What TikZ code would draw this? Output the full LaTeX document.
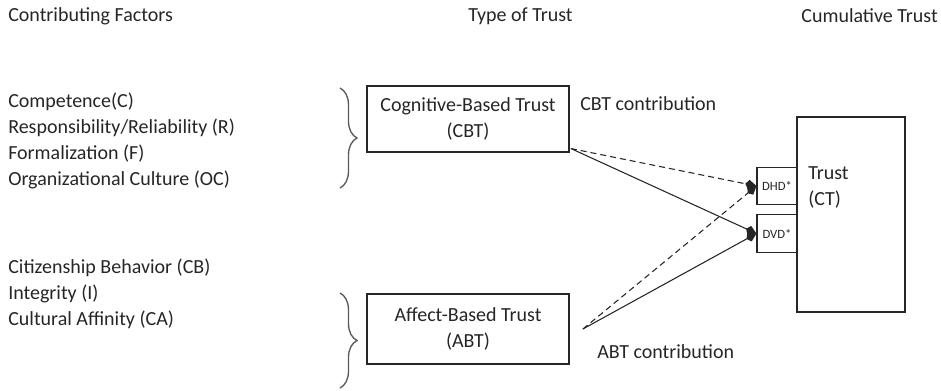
\documentclass[tikz,border=0pt]{standalone}
\usepackage{fontspec}
\setmainfont{Carlito}
\usetikzlibrary{arrows.meta,decorations.pathreplacing}

\begin{document}
\begin{tikzpicture}[x=0.75pt,y=-0.75pt,
  every node/.style={font=\fontsize{15}{19.5}\selectfont, text=black!85, inner sep=0pt},
  typebox/.style={draw=black!85, line width=0.8pt, minimum width=151.5pt, align=center},
  dbox/.style={draw=black!85, line width=0.8pt, minimum width=30pt, minimum height=28pt, font=\fontsize{9.5}{11}\selectfont},
  fbrace/.style={decorate, decoration={brace, amplitude=12.75pt}, draw=black!65, line width=1pt},
  link/.style={draw=black!85, line width=0.8pt, -{Kite[length=8.5pt,width=7pt,inset=2.5pt]}},
  dlink/.style={link, dash pattern=on 4.5pt off 3pt}]
\useasboundingbox (0,0) rectangle (941,390);
% column heads
\node[anchor=west] (hfac) at (8,16) {Contributing Factors};
\node[anchor=west] (htype) at (468,16) {Type of Trust};
\node[anchor=east] (hcum) at (938,16) {Cumulative Trust};
% factors
\node[anchor=west, align=left] (fcbt) at (8,141) {Competence(C)\\Responsibility/Reliability (R)\\Formalization (F)\\Organizational Culture (OC)};
\node[anchor=west, align=left] (fabt) at (8,294) {Citizenship Behavior (CB)\\Integrity (I)\\Cultural Affinity (CA)};
\draw[fbrace] (340,88) -- (340,188);
\draw[fbrace] (340,293) -- (340,388);
% trust types
\node[typebox, minimum height=49.5pt] (cbt) at (468,119) {Cognitive-Based Trust\\(CBT)};
\node[typebox, minimum height=52.5pt] (abt) at (468,329) {Affect-Based Trust\\(ABT)};
\node[anchor=west] (lcbt) at (580,104) {CBT contribution};
\node[anchor=west] (labt) at (597,352) {ABT contribution};
% cumulative trust
\node[draw=black!85, line width=0.8pt, minimum width=81pt, minimum height=146.25pt] (ct) at (851,214.5) {};
\node[anchor=west, align=left] (ctlab) at (808,187) {Trust\\(CT)};
\node[dbox] (dhd) at (777,186) {DHD*};
\node[dbox] (dvd) at (777,233.5) {DVD*};
% contributions
\coordinate (cbtout) at ([xshift=1pt,yshift=3pt]cbt.south east);
\coordinate (abtout) at ([xshift=10pt]abt.east);
\draw[link] (cbtout) -- (dvd.west);
\draw[dlink] (cbtout) -- (dhd.west);
\draw[link] (abtout) -- (dvd.west);
\draw[dlink] (abtout) -- (dhd.west);
\end{tikzpicture}
\end{document}
